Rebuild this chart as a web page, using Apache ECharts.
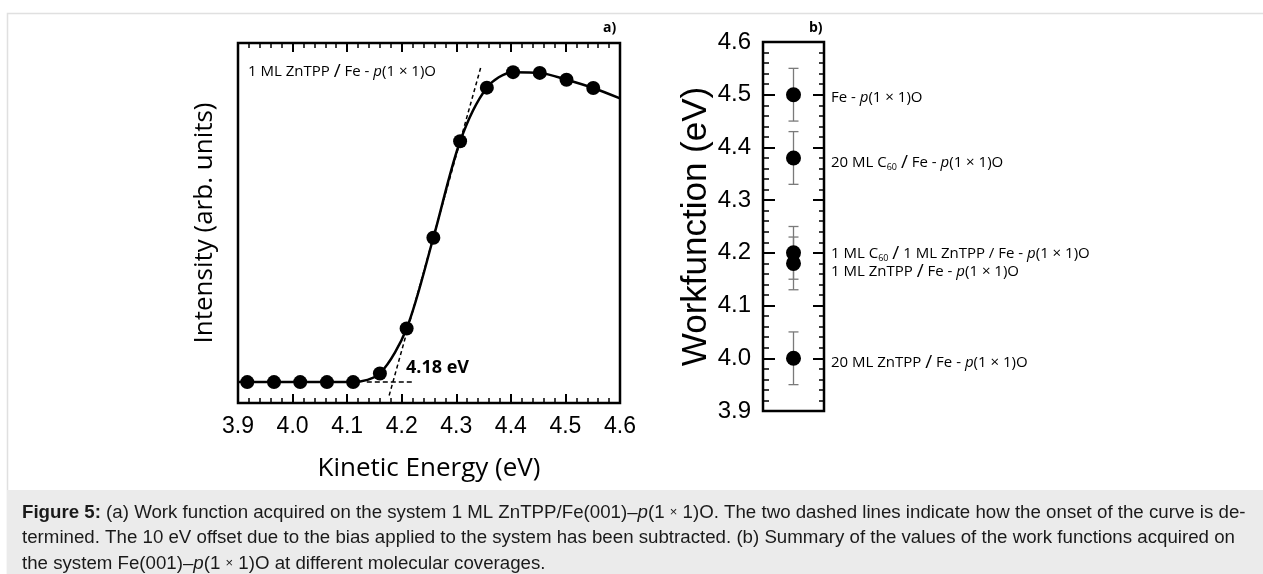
<!DOCTYPE html>
<html><head><meta charset="utf-8">
<script src="https://cdn.jsdelivr.net/npm/echarts/dist/echarts.min.js"></script>
<style>html,body{margin:0;padding:0;background:#fff}#c{width:1263px;height:574px}</style>
</head><body><div id="c"></div>
<script>
// ---- Panel a: kinetic energy spectrum ----
const energy    = [3.917, 3.966, 4.014, 4.063, 4.111, 4.160, 4.209, 4.258, 4.307, 4.356, 4.404, 4.453, 4.502, 4.551];
const intensity = [5.8, 5.8, 5.8, 5.8, 5.8, 8.2, 20.7, 45.9, 72.7, 87.6, 91.9, 91.7, 89.8, 87.5];
const fitEnergy    = [3.900, 3.917, 3.966, 4.014, 4.063, 4.111, 4.160, 4.209, 4.258, 4.307, 4.356, 4.404, 4.453, 4.502, 4.551, 4.600];
const fitIntensity = [5.8, 5.8, 5.8, 5.8, 5.8, 5.8, 8.2, 20.7, 45.9, 72.7, 87.6, 91.9, 91.7, 89.8, 87.5, 84.6];
const tangentEnergy = [4.177, 4.345];
const tangentIntensity = [2.1, 93.3];
const baseEnergy = [4.136, 4.224];
const baseIntensity = [5.8, 5.8];
const energyTicks = [3.9, 4.0, 4.1, 4.2, 4.3, 4.4, 4.5, 4.6];
const onsetLabel = '4.18 eV';
const panelALabel = '1 ML ZnTPP {sl|/} Fe - {i|p}(1 × 1)O';

// ---- Panel b: work functions ----
const wfValues = [4.50, 4.38, 4.20, 4.18, 4.00];
const wfErrors = [0.05, 0.05, 0.05, 0.05, 0.05];
const wfLabels = [
  'Fe - {i|p}(1 × 1)O',
  '20 ML C{sub|60} {sl|/} Fe - {i|p}(1 × 1)O',
  '1 ML C{sub|60} {sl|/} 1 ML ZnTPP / Fe - {i|p}(1 × 1)O',
  '1 ML ZnTPP {sl|/} Fe - {i|p}(1 × 1)O',
  '20 ML ZnTPP {sl|/} Fe - {i|p}(1 × 1)O'
];
const wfTicks = [3.9, 4.0, 4.1, 4.2, 4.3, 4.4, 4.5, 4.6];

const captionLines = [
  '{b|Figure 5:} (a) Work function acquired on the system 1 ML ZnTPP/Fe(001)–{i|p}(1 {x|×} 1)O. The two dashed lines indicate how the onset of the curve is de-',
  'termined. The 10 eV offset due to the bias applied to the system has been subtracted. (b) Summary of the values of the work functions acquired on',
  'the system Fe(001)–{i|p}(1 {x|×} 1)O at different molecular coverages.'
];

// style-only arrays
const labelShift = [3, 5, 1, 8, 4];

const CAL = 'Open Sans';
const ARI = 'Liberation Sans';
const richLbl = {
  i:   {fontFamily: CAL, fontSize: 15, fontStyle: 'italic', color: '#000'},
  sub: {fontFamily: CAL, fontSize: 9, padding: [9, 0, 0, 0], color: '#000'},
  sl:  {fontFamily: CAL, fontSize: 19, color: '#000'}
};

const chart = echarts.init(document.getElementById('c'), null, {renderer: 'canvas'});
const tickCommon = (len, mlen) => ({
  axisTick: {show: true, inside: true, length: len, lineStyle: {color: '#000', width: 2}},
  minorTick: {show: true, splitNumber: 5, length: mlen, lineStyle: {color: '#000', width: 1.5}},
  splitLine: {show: false}, minorSplitLine: {show: false}
});

const CFS = 18.7;
const caption = captionLines.map((t, i) => ({
  type: 'text', left: 22, top: 503 + i * 25.5, z: 10,
  style: {
    text: t, fontFamily: ARI, fontSize: CFS, fill: '#1a1a1a',
    rich: {
      b: {fontFamily: ARI, fontSize: CFS, fontWeight: 'bold', fill: '#1a1a1a'},
      i: {fontFamily: ARI, fontSize: CFS, fontStyle: 'italic', fill: '#1a1a1a'},
      x: {fontFamily: ARI, fontSize: 13, fill: '#1a1a1a'}
    }
  }
}));

chart.setOption({
  animation: false,
  backgroundColor: '#fff',
  grid: [
    {left: 238, top: 43, width: 382, height: 360, show: true, borderColor: '#000', borderWidth: 2.5, backgroundColor: 'transparent', outerBoundsMode: 'none'},
    {left: 763, top: 42, width: 61, height: 369, show: true, borderColor: '#000', borderWidth: 2.5, backgroundColor: 'transparent', outerBoundsMode: 'none'}
  ],
  xAxis: [
    Object.assign({
      gridIndex: 0, type: 'value', position: 'bottom',
      min: energyTicks[0], max: energyTicks[energyTicks.length - 1], interval: 0.1,
      axisLine: {show: false},
      axisLabel: {fontFamily: ARI, fontSize: 23, color: '#000', margin: 12, formatter: v => v.toFixed(1)},
      name: 'Kinetic Energy (eV)', nameLocation: 'middle', nameGap: 53,
      nameTextStyle: {fontFamily: CAL, fontSize: 26, color: '#000'}
    }, tickCommon(9, 5)),
    Object.assign({
      gridIndex: 0, type: 'value', position: 'top',
      min: energyTicks[0], max: energyTicks[energyTicks.length - 1], interval: 0.1,
      axisLine: {show: false}, axisLabel: {show: false}
    }, tickCommon(9, 5)),
    {gridIndex: 1, type: 'value', min: 0, max: 1, show: false}
  ],
  yAxis: [
    {
      gridIndex: 0, type: 'value', min: 0, max: 100,
      axisLine: {show: false}, axisTick: {show: false}, axisLabel: {show: false}, splitLine: {show: false},
      name: 'Intensity (arb. units)', nameLocation: 'middle', nameGap: 20,
      nameTextStyle: {fontFamily: CAL, fontSize: 26, color: '#000'}
    },
    Object.assign({
      gridIndex: 1, type: 'value', position: 'left',
      min: wfTicks[0], max: wfTicks[wfTicks.length - 1], interval: 0.1,
      axisLine: {show: false},
      axisLabel: {fontFamily: ARI, fontSize: 24, color: '#000', margin: 12, formatter: v => v.toFixed(1)},
      name: 'Workfunction (eV)', nameLocation: 'middle', nameGap: 31,
      nameTextStyle: {fontFamily: ARI, fontSize: 35, color: '#000'}
    }, tickCommon(12, 6)),
    Object.assign({
      gridIndex: 1, type: 'value', position: 'right',
      min: wfTicks[0], max: wfTicks[wfTicks.length - 1], interval: 0.1,
      axisLine: {show: false}, axisLabel: {show: false}
    }, tickCommon(11, 5))
  ],
  graphic: [
    {type: 'rect', shape: {x: 7.5, y: 13.5, width: 1300, height: 600}, style: {fill: 'none', stroke: '#e0e0e0', lineWidth: 1.5}, z: -5, silent: true},
    {type: 'rect', shape: {x: 7, y: 490, width: 1260, height: 90}, style: {fill: '#ebebeb'}, z: 5, silent: true},
    {type: 'text', left: 603, top: 21, style: {text: 'a)', fontFamily: CAL, fontSize: 14, fontWeight: 'bold', fill: '#000'}},
    {type: 'text', left: 809, top: 21, style: {text: 'b)', fontFamily: CAL, fontSize: 14, fontWeight: 'bold', fill: '#000'}},
    {type: 'text', left: 248, top: 62, style: {text: panelALabel, fontFamily: CAL, fontSize: 15, fill: '#000', rich: richLbl}},
    {type: 'text', left: 406, top: 359, style: {text: onsetLabel, fontFamily: CAL, fontSize: 18, fontWeight: 'bold', fill: '#000'}}
  ].concat(caption),
  series: [
    {
      type: 'line', xAxisIndex: 0, yAxisIndex: 0, smooth: 0.3,
      showSymbol: false, lineStyle: {color: '#000', width: 2.5}, z: 3,
      data: fitEnergy.map((x, i) => [x, fitIntensity[i]])
    },
    {
      type: 'line', xAxisIndex: 0, yAxisIndex: 0, showSymbol: false,
      lineStyle: {color: '#000', width: 1.5, type: [4, 3]}, z: 2,
      data: tangentEnergy.map((x, i) => [x, tangentIntensity[i]])
    },
    {
      type: 'line', xAxisIndex: 0, yAxisIndex: 0, showSymbol: false,
      lineStyle: {color: '#000', width: 1.5, type: [5, 3]}, z: 2,
      data: baseEnergy.map((x, i) => [x, baseIntensity[i]])
    },
    {
      type: 'scatter', xAxisIndex: 0, yAxisIndex: 0, symbolSize: 14, z: 4,
      itemStyle: {color: '#000', opacity: 1},
      data: energy.map((x, i) => [x, intensity[i]])
    },
    {
      type: 'custom', xAxisIndex: 2, yAxisIndex: 1, z: 2,
      encode: {x: 0, y: [1, 2]},
      data: wfValues.map((v, i) => [0.5, v - wfErrors[i], v + wfErrors[i]]),
      renderItem: (params, api) => {
        const x = api.value(0);
        const pLo = api.coord([x, api.value(1)]);
        const pHi = api.coord([x, api.value(2)]);
        const hw = 5;
        const st = {stroke: '#7a7a7a', lineWidth: 1.3};
        return {type: 'group', children: [
          {type: 'line', shape: {x1: pLo[0], y1: pLo[1], x2: pHi[0], y2: pHi[1]}, style: st},
          {type: 'line', shape: {x1: pLo[0] - hw, y1: pLo[1], x2: pLo[0] + hw, y2: pLo[1]}, style: st},
          {type: 'line', shape: {x1: pHi[0] - hw, y1: pHi[1], x2: pHi[0] + hw, y2: pHi[1]}, style: st}
        ]};
      }
    },
    {
      type: 'scatter', xAxisIndex: 2, yAxisIndex: 1, symbolSize: 15, z: 4,
      itemStyle: {color: '#000', opacity: 1},
      label: {
        show: true, position: 'right', distance: 30,
        fontFamily: CAL, fontSize: 15, color: '#000',
        formatter: p => wfLabels[p.dataIndex], rich: richLbl
      },
      data: wfValues.map((v, i) => ({value: [0.5, v], label: {offset: [0, labelShift[i]]}}))
    }
  ]
});
</script></body></html>
